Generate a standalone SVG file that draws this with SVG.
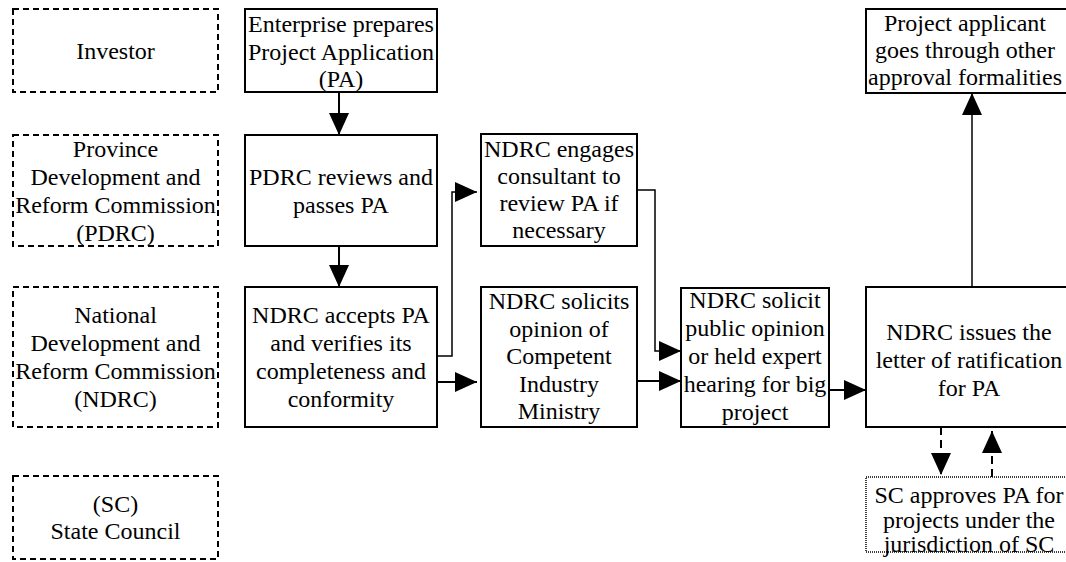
<svg xmlns="http://www.w3.org/2000/svg" width="1066" height="562" viewBox="0 0 1066 562">
<style>
text{font-family:'Liberation Serif','Times New Roman',serif;font-size:24px;fill:#000;text-anchor:middle}
.lane{fill:#fff;stroke:#000;stroke-width:2;stroke-dasharray:6 4}
.box{fill:#fff;stroke:#000;stroke-width:2}
.dot{fill:#fff;stroke:#000;stroke-width:1.5;stroke-dasharray:1 1}
.c{fill:none;stroke:#000;stroke-width:2}
.e{fill:none;stroke:#000;stroke-width:1.5}
.d{fill:none;stroke:#000;stroke-width:2;stroke-dasharray:8 5}
</style>
<defs>
<marker id="ah" viewBox="0 0 22 20" refX="22" refY="10" markerWidth="22" markerHeight="20" markerUnits="userSpaceOnUse" orient="auto">
<path d="M0,0 L22,10 L0,20 z" fill="#000"/>
</marker>
</defs>
<g id="lane-investor"><rect class="lane" x="13" y="9" width="205" height="83"/><text x="115.5" y="59">Investor</text></g>
<g id="lane-pdrc"><rect class="lane" x="13" y="135" width="205" height="111"/><text x="115.5" y="157">Province</text><text x="115.5" y="185">Development and</text><text x="115.5" y="213">Reform Commission</text><text x="115.5" y="241">(PDRC)</text></g>
<g id="lane-ndrc"><rect class="lane" x="13" y="287" width="205" height="140"/><text x="115.5" y="323">National</text><text x="115.5" y="351">Development and</text><text x="115.5" y="379">Reform Commission</text><text x="115.5" y="407">(NDRC)</text></g>
<g id="lane-sc"><rect class="lane" x="13" y="476" width="205" height="83"/><text x="115.5" y="512">(SC)</text><text x="115.5" y="539">State Council</text></g>
<g id="enterprise"><rect class="box" x="245" y="9" width="192" height="83"/><text x="341" y="32">Enterprise prepares</text><text x="341" y="60">Project Application</text><text x="341" y="87">(PA)</text></g>
<g id="pdrc-review"><rect class="box" x="245" y="135" width="192" height="111"/><text x="341" y="185">PDRC reviews and</text><text x="341" y="213">passes PA</text></g>
<g id="ndrc-accept"><rect class="box" x="245" y="287" width="192" height="140"/><text x="341" y="323">NDRC accepts PA</text><text x="341" y="351">and verifies its</text><text x="341" y="379">completeness and</text><text x="341" y="407">conformity</text></g>
<g id="consultant"><rect class="box" x="481" y="134" width="156" height="112"/><text x="559" y="157">NDRC engages</text><text x="559" y="184">consultant to</text><text x="559" y="211">review PA if</text><text x="559" y="238">necessary</text></g>
<g id="ministry"><rect class="box" x="481" y="287" width="156" height="140"/><text x="559" y="309">NDRC solicits</text><text x="559" y="336.5">opinion of</text><text x="559" y="364">Competent</text><text x="559" y="391.5">Industry</text><text x="559" y="419">Ministry</text></g>
<g id="public"><rect class="box" x="681" y="288" width="148" height="139"/><text x="755" y="308">NDRC solicit</text><text x="755" y="336">public opinion</text><text x="755" y="364">or held expert</text><text x="755" y="392">hearing for big</text><text x="755" y="420">project</text></g>
<g id="issues"><rect class="box" x="866" y="287" width="206" height="140"/><text x="969" y="340">NDRC issues the</text><text x="969" y="368">letter of ratification</text><text x="969" y="396">for PA</text></g>
<g id="applicant"><rect class="box" x="866" y="9" width="206" height="84"/><text x="965" y="31">Project applicant</text><text x="965" y="58">goes through other</text><text x="965" y="85">approval formalities</text></g>
<g id="sc-approve"><rect class="dot" x="866" y="477" width="206" height="75"/><text x="969" y="503">SC approves PA for</text><text x="969" y="528">projects under the</text><text x="969" y="552">jurisdiction of SC</text></g>
<g id="connectors">
<path class="c" d="M339,92 V135" marker-end="url(#ah)"/>
<path class="c" d="M339,246 V287" marker-end="url(#ah)"/>
<path class="e" d="M437,356 H452 V192 H477" marker-end="url(#ah)"/>
<path class="c" d="M437,382 H477" marker-end="url(#ah)"/>
<path class="e" d="M637,190 H655 V351 H681" marker-end="url(#ah)"/>
<path class="c" d="M637,381 H681" marker-end="url(#ah)"/>
<path class="c" d="M829,390 H866" marker-end="url(#ah)"/>
<path class="e" d="M972,287 V93" marker-end="url(#ah)"/>
<path class="d" d="M941,427 V475" marker-end="url(#ah)"/>
<path class="d" d="M992,477 V431" marker-end="url(#ah)"/>
</g>
</svg>
